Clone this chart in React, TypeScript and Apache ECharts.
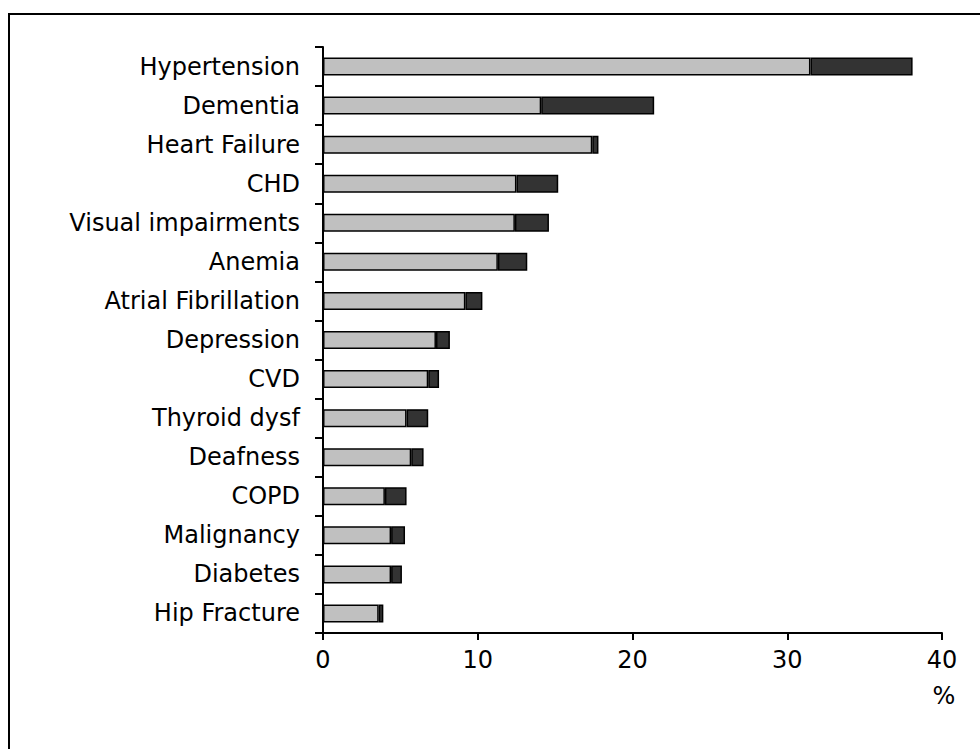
import React, { useEffect, useRef } from "react";
import * as echarts from "echarts";

const categories = [
  "Hypertension",
  "Dementia",
  "Heart Failure",
  "CHD",
  "Visual impairments",
  "Anemia",
  "Atrial Fibrillation",
  "Depression",
  "CVD",
  "Thyroid dysf",
  "Deafness",
  "COPD",
  "Malignancy",
  "Diabetes",
  "Hip Fracture",
];

// light grey segment (%)
const lightValues = [31.5, 14.1, 17.4, 12.5, 12.4, 11.3, 9.2, 7.3, 6.8, 5.4, 5.7, 4.0, 4.4, 4.4, 3.6];
// dark segment (%), stacked on top of the light one
const darkValues = [6.6, 7.3, 0.4, 2.7, 2.2, 1.9, 1.1, 0.9, 0.7, 1.4, 0.8, 1.4, 0.9, 0.7, 0.3];

const xTicks = [0, 10, 20, 30, 40];
const unitLabel = "%";

const FONT = "DejaVu Sans";

export default function App() {
  const ref = useRef<HTMLDivElement>(null);

  useEffect(() => {
    if (!ref.current) return;
    const chart = echarts.init(ref.current, undefined, { renderer: "svg" });
    chart.setOption({
      animation: false,
      backgroundColor: "#ffffff",
      grid: { left: 323, right: 38, top: 47, bottom: 116, containLabel: false },
      xAxis: {
        type: "value",
        min: xTicks[0],
        max: xTicks[xTicks.length - 1],
        interval: 10,
        splitLine: { show: false },
        axisLine: { show: true, lineStyle: { color: "#000", width: 2 } },
        axisTick: { show: true, length: 7, lineStyle: { color: "#000", width: 2 } },
        axisLabel: {
          color: "#000",
          fontFamily: FONT,
          fontSize: 24,
          margin: 15,
        },
      },
      yAxis: {
        type: "category",
        inverse: true,
        data: categories,
        axisLine: { show: true, lineStyle: { color: "#000", width: 2 } },
        axisTick: { show: true, length: 8, inside: false, lineStyle: { color: "#000", width: 2 } },
        axisLabel: {
          color: "#000",
          fontFamily: FONT,
          fontSize: 24,
          margin: 23,
        },
      },
      series: [
        {
          type: "bar",
          stack: "total",
          data: lightValues,
          barWidth: 18,
          itemStyle: { color: "#c0c0c0", borderColor: "#000", borderWidth: 1.5 },
        },
        {
          type: "bar",
          stack: "total",
          data: darkValues,
          barWidth: 18,
          itemStyle: { color: "#333333", borderColor: "#000", borderWidth: 1.5 },
        },
      ],
      graphic: [
        {
          type: "rect",
          shape: { x: 9, y: 14, width: 1100, height: 900 },
          style: { fill: "none", stroke: "#000", lineWidth: 2 },
          silent: true,
        },
        {
          type: "text",
          x: 944,
          y: 696,
          style: {
            text: unitLabel,
            fill: "#000",
            font: `24px "${FONT}"`,
            textAlign: "center",
            textVerticalAlign: "middle",
          },
        },
      ],
    });
    return () => chart.dispose();
  }, []);

  return (
    <div
      ref={ref}
      style={{ position: "absolute", left: 0, top: 0, width: 980, height: 749 }}
    />
  );
}
